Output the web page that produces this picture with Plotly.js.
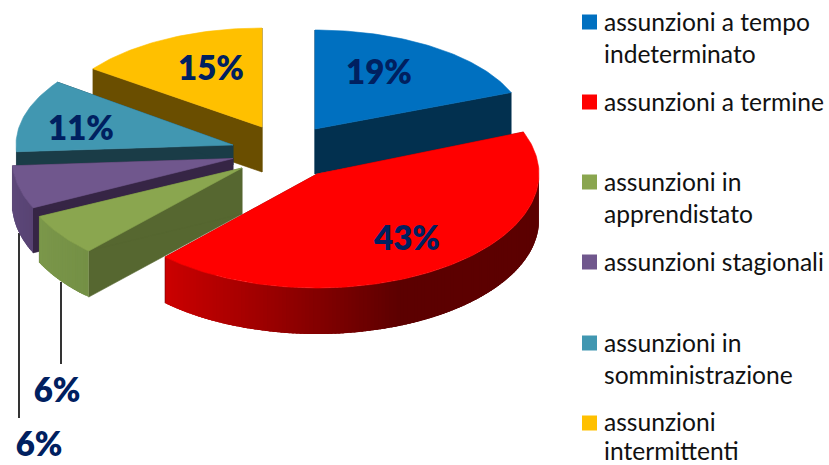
<!DOCTYPE html>
<html><head><meta charset="utf-8">
<script src="https://cdn.plot.ly/plotly-3.0.1.min.js"></script>
<style>html,body{margin:0;padding:0;background:#fff}</style></head>
<body><div id="c" style="width:829px;height:465px"></div>
<script>
const categories = ["assunzioni a tempo<br>indeterminato","assunzioni a termine","assunzioni in<br>apprendistato","assunzioni stagionali","assunzioni in<br>somministrazione","assunzioni<br>intermittenti"];
const shares = [19,43,6,6,11,15];

// styling / 3D geometry of each slice (same order as categories)
const topColors  = ["#0070c0","#ff0000","#8aa64f","#70578d","#4197b1","#ffc000"];
const cutColors  = ["#02304f","#7a0000","#566730","#362545","#1a3c47","#6a4e00"];
const wallFrom   = ["#02304f","#5c0000","#7b974a","#5f4a7c","#1a3c47","#6a4e00"];
const wallTo     = ["#02304f","#cc0000","#749045","#584373","#1a3c47","#6a4e00"];
const apexX = [315,317,242,233,233,262];
const apexY = [129,174,168,158.5,145,127];
const radX  = [211,222,224,221,217,209];
const radY  = [99,114,114,116,107,99];
const depth = [45,46,46,45,20,45];
const paintOrder = [5,4,3,2,0,1];
const pctX = [379,407,57,39,81,211];
const pctY = [76,242,394,448,132,72];
const legendSwatchY = [22,102,182,262,343,423];
const legendLineY = [[21,53],[101],[181,213],[261],[342,374],[421,450]];

const rad = d => d*Math.PI/180;
const hex = c => [1,3,5].map(i=>parseInt(c.substr(i,2),16));
const mix = (a,b,t)=>{const A=hex(a),B=hex(b);return 'rgb('+A.map((v,i)=>Math.round(v+(B[i]-v)*t)).join(',')+')';};
const poly = (xs,ys,color,w)=>({type:'scatter',mode:'lines',x:xs,y:ys,fill:'toself',fillcolor:color,
  line:{color:color,width:w===undefined?0.6:w},hoverinfo:'skip',showlegend:false});

const starts=[];let acc=0;shares.forEach(v=>{starts.push(acc*3.6);acc+=v;});
const traces=[];

// leader lines for the two small slices
const leaderX=[[61,61],[19,19]], leaderY=[[282,364],[233,418]];
leaderX.forEach((lx,i)=>traces.push({type:'scatter',mode:'lines',x:lx,y:leaderY[i],
  line:{color:'#000',width:1.6},hoverinfo:'skip',showlegend:false}));

paintOrder.forEach(i=>{
  const a0=starts[i],a1=a0+shares[i]*3.6;
  const px=a=>apexX[i]+radX[i]*Math.sin(rad(a));
  const py=a=>apexY[i]-radY[i]*Math.cos(rad(a));
  const d=depth[i];
  // flat cut faces
  [a0,a1].forEach(a=>traces.push(poly(
    [apexX[i],px(a),px(a),apexX[i],apexX[i]],
    [apexY[i],py(a),py(a)+d,apexY[i]+d,apexY[i]],cutColors[i])));
  // front-facing curved wall, shaded in overlapping strips painted one over the next
  const lo=Math.max(a0,90),hi=Math.min(a1,270);
  for(let a=lo;a<hi;a+=1){
    const b=Math.min(a+2.5,hi);
    const mid=a+0.5;
    const tt=i===1?Math.max(0,Math.min(1,(400-px(mid))/235)):(hi-mid)/(hi-lo);
    const xs=[],ys=[],xb=[],yb=[];
    for(let q=a;q<=b+1e-6;q+=0.5){xs.push(px(q));ys.push(py(q));xb.unshift(px(q));yb.unshift(py(q)+d);}
    traces.push(poly(xs.concat(xb,[xs[0]]),ys.concat(yb,[ys[0]]),mix(wallFrom[i],wallTo[i],tt),0));
  }
  // top face
  const xs=[apexX[i]],ys=[apexY[i]];
  for(let a=a0;a<a1;a+=1){xs.push(px(a));ys.push(py(a));}
  xs.push(px(a1),apexX[i]);ys.push(py(a1),apexY[i]);
  traces.push(poly(xs,ys,topColors[i]));
});

// percentage labels
traces.push({type:'scatter',mode:'text',x:pctX,y:pctY,text:shares.map(v=>v+'%'),textposition:'middle center',
  textfont:{family:'Lato, sans-serif',size:33,color:'#002060',weight:800},hoverinfo:'skip',showlegend:false});
// legend swatches
traces.push({type:'scatter',mode:'markers',x:categories.map(()=>589.5),y:legendSwatchY,
  marker:{symbol:'square',size:15,color:topColors,line:{width:0}},hoverinfo:'skip',showlegend:false});

const annotations=[];
categories.forEach((c,i)=>c.split('<br>').forEach((t,j)=>annotations.push({
  x:604,y:legendLineY[i][j],xref:'x',yref:'y',text:t,showarrow:false,xanchor:'left',yanchor:'middle',xshift:-2,
  font:{family:'Lato, sans-serif',size:24.6,color:'#111'}})));

Plotly.newPlot('c',traces,{
  width:829,height:465,margin:{l:0,r:0,t:0,b:0},paper_bgcolor:'#fff',plot_bgcolor:'#fff',showlegend:false,
  xaxis:{range:[0,829],visible:false,fixedrange:true},
  yaxis:{range:[465,0],visible:false,fixedrange:true},
  annotations:annotations
},{displayModeBar:false,staticPlot:true});
</script></body></html>
